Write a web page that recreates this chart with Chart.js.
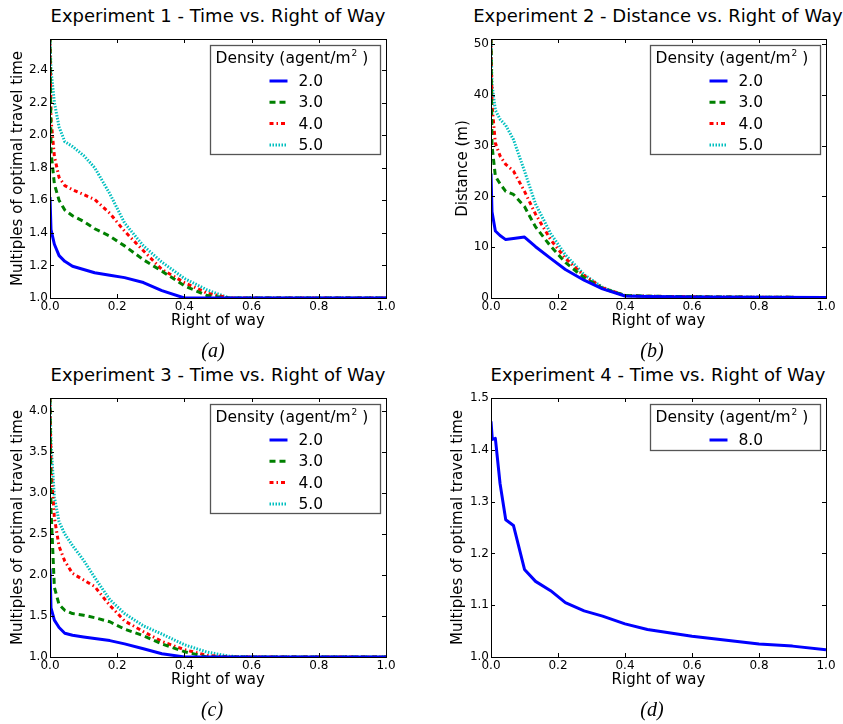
<!DOCTYPE html>
<html>
<head>
<meta charset="utf-8">
<script src="https://cdn.jsdelivr.net/npm/chart.js@4.4.1/dist/chart.umd.min.js"></script>
<style>
  body { margin:0; background:#fff; width:843px; height:724px; position:relative; overflow:hidden; font-family:"DejaVu Sans", sans-serif; }
  canvas { position:absolute; }
  .ttl { position:absolute; width:500px; font-size:18px; line-height:20px; color:#000; text-align:center; white-space:nowrap; }
  .cap { position:absolute; width:100px; font-family:"Liberation Serif", serif; font-style:italic; font-size:20px; line-height:24px; text-align:center; color:#000; }
</style>
</head>
<body>
<div class="ttl" style="left:-32px;top:6px">Experiment 1 - Time vs. Right of Way</div>
<div class="ttl" style="left:408px;top:6px">Experiment 2 - Distance vs. Right of Way</div>
<div class="ttl" style="left:-32px;top:365px">Experiment 3 - Time vs. Right of Way</div>
<div class="ttl" style="left:408px;top:365px">Experiment 4 - Time vs. Right of Way</div>

<canvas id="expA" width="420" height="340" style="left:0;top:0"></canvas>
<canvas id="expB" width="423" height="340" style="left:420px;top:0"></canvas>
<canvas id="expC" width="420" height="340" style="left:0;top:359px"></canvas>
<canvas id="expD" width="423" height="340" style="left:420px;top:359px"></canvas>

<div class="cap" style="left:163px;top:338px">(a)</div>
<div class="cap" style="left:602px;top:338px">(b)</div>
<div class="cap" style="left:162px;top:697px">(c)</div>
<div class="cap" style="left:602px;top:697px">(d)</div>

<script>
// ── DADOS ─────────────────────────────────────────
const rightOfWay = [0, 0.003, 0.013, 0.027, 0.044, 0.067, 0.1, 0.133, 0.178, 0.222, 0.278, 0.333, 0.4, 0.467, 0.533, 0.6, 0.8, 1.0];

const densityLabels = ['2.0', '3.0', '4.0', '5.0'];
const densityLabelsExp4 = ['8.0'];

// Experiment 1 - time multiples
const exp1Dens2 = [1.62, 1.42, 1.33, 1.26, 1.225, 1.195, 1.175, 1.155, 1.14, 1.125, 1.095, 1.045, 1.0, 1.0, 1.0, 1.0, 1.0, 1.0];
const exp1Dens3 = [2.6, 1.9, 1.7, 1.6, 1.54, 1.505, 1.47, 1.425, 1.38, 1.32, 1.235, 1.165, 1.075, 1.015, 1.0, 1.0, 1.0, 1.0];
const exp1Dens4 = [2.6, 2.1, 1.87, 1.74, 1.69, 1.665, 1.635, 1.605, 1.52, 1.41, 1.29, 1.175, 1.095, 1.03, 1.0, 1.0, 1.0, 1.0];
const exp1Dens5 = [2.6, 2.4, 2.2, 2.05, 1.96, 1.93, 1.875, 1.8, 1.64, 1.46, 1.32, 1.22, 1.12, 1.05, 1.0, 1.0, 1.0, 1.0];

// Experiment 2 - distance (m)
const exp2Dens2 = [24.5, 17, 13.2, 12.3, 11.5, 11.7, 12.0, 10.1, 7.8, 5.6, 3.5, 1.8, 0.4, 0.3, 0.25, 0.2, 0.15, 0.1];
const exp2Dens3 = [51, 30, 24, 22.5, 21, 20.4, 18, 14, 10.2, 7.0, 4.0, 1.9, 0.5, 0.35, 0.3, 0.25, 0.15, 0.1];
const exp2Dens4 = [51, 38, 30.5, 28, 26.3, 25, 21, 16.5, 11.5, 7.8, 4.4, 2.0, 0.5, 0.35, 0.3, 0.25, 0.15, 0.1];
const exp2Dens5 = [51, 42, 37, 35.2, 34, 31.2, 25, 18.5, 12.7, 8.5, 4.6, 2.1, 0.5, 0.35, 0.3, 0.25, 0.15, 0.1];

// Experiment 3 - time multiples
const exp3Dens2 = [2.08, 1.6, 1.45, 1.36, 1.29, 1.265, 1.245, 1.225, 1.2, 1.16, 1.1, 1.04, 1.0, 1.0, 1.0, 1.0, 1.0, 1.0];
const exp3Dens3 = [4.16, 2.8, 1.85, 1.64, 1.57, 1.53, 1.51, 1.48, 1.43, 1.34, 1.26, 1.16, 1.065, 1.0, 1.0, 1.0, 1.0, 1.0];
const exp3Dens4 = [4.16, 3.3, 2.7, 2.35, 2.17, 2.02, 1.94, 1.86, 1.63, 1.44, 1.31, 1.19, 1.09, 1.02, 1.0, 1.0, 1.0, 1.0];
const exp3Dens5 = [4.16, 3.6, 2.95, 2.65, 2.5, 2.36, 2.18, 1.97, 1.7, 1.53, 1.38, 1.28, 1.15, 1.06, 1.01, 1.0, 1.0, 1.0];

// Experiment 4 - own sampling
const rightOfWayExp4 = [0, 0.004, 0.013, 0.027, 0.044, 0.067, 0.1, 0.133, 0.178, 0.222, 0.278, 0.333, 0.4, 0.467, 0.6, 0.8, 0.9, 1.0];
const exp4Dens8 = [1.455, 1.42, 1.422, 1.335, 1.265, 1.254, 1.169, 1.146, 1.128, 1.105, 1.089, 1.079, 1.064, 1.053, 1.04, 1.025, 1.021, 1.014];

// tick labels
const xTicks = [0, 0.2, 0.4, 0.6, 0.8, 1.0];
const yTicksExp1 = [1.0, 1.2, 1.4, 1.6, 1.8, 2.0, 2.2, 2.4];
const yTicksExp2 = [0, 10, 20, 30, 40, 50];
const yTicksExp3 = [1.0, 1.5, 2.0, 2.5, 3.0, 3.5, 4.0];
const yTicksExp4 = [1.0, 1.1, 1.2, 1.3, 1.4, 1.5];

// ── ESTILOS DAS SÉRIES ────────────────────────────
const seriesStyles = [
  { color: '#0000ff', dash: [] },
  { color: '#008000', dash: [6, 4] },
  { color: '#ff0000', dash: [4, 3, 1.5, 3] },
  { color: '#00bfbf', dash: [1.5, 1.5] },
];

const FONT = '"DejaVu Sans", sans-serif';

// ── MOLDURA + TICKS PARA DENTRO ──────────────────
const framePlugin = {
  id: 'frame',
  afterDatasetsDraw(chart) {
    const { ctx, chartArea: a, scales } = chart;
    const L = 4;
    ctx.save();
    ctx.strokeStyle = '#000';
    ctx.lineWidth = 1;
    ctx.beginPath();
    scales.x.ticks.forEach(t => {
      const px = Math.round(scales.x.getPixelForValue(t.value)) + 0.5;
      ctx.moveTo(px, a.bottom); ctx.lineTo(px, a.bottom - L);
      ctx.moveTo(px, a.top); ctx.lineTo(px, a.top + L);
    });
    scales.y.ticks.forEach(t => {
      const py = Math.round(scales.y.getPixelForValue(t.value)) + 0.5;
      ctx.moveTo(a.left, py); ctx.lineTo(a.left + L, py);
      ctx.moveTo(a.right, py); ctx.lineTo(a.right - L, py);
    });
    ctx.stroke();
    ctx.strokeRect(Math.round(a.left) + 0.5, Math.round(a.top) + 0.5, Math.round(a.right - a.left), Math.round(a.bottom - a.top));
    ctx.restore();
  }
};

// ── LEGENDA EM CAIXA ─────────────────────────────
const boxLegend = {
  id: 'boxLegend',
  afterDatasetsDraw(chart) {
    const { ctx, chartArea: a } = chart;
    const ds = chart.data.datasets;
    const w = 170, h = 46 + 21 * (ds.length - 1);
    const bx = Math.round(a.right - 6 - w) + 0.5, by = Math.round(a.top + 6) + 0.5;
    ctx.save();
    ctx.fillStyle = '#fff';
    ctx.fillRect(bx, by, w, h);
    ctx.strokeStyle = '#555';
    ctx.lineWidth = 1.3;
    ctx.strokeRect(bx, by, w, h);

    ctx.fillStyle = '#000';
    ctx.textBaseline = 'middle';
    ctx.textAlign = 'left';
    ctx.font = '15.5px ' + FONT;
    let tx = bx + 5;
    const ty = by + 13.5;
    const t1 = 'Density (agent/m';
    ctx.fillText(t1, tx, ty);
    tx += ctx.measureText(t1).width + 1;
    ctx.font = '9px ' + FONT;
    ctx.fillText('2', tx, ty - 5);
    tx += ctx.measureText('2').width;
    ctx.font = '15.5px ' + FONT;
    ctx.fillText(' )', tx, ty);

    ds.forEach((d, i) => {
      const ry = by + 35.5 + 21.3 * i;
      ctx.save();
      ctx.strokeStyle = d.borderColor;
      ctx.lineWidth = d.borderWidth;
      ctx.setLineDash(d.borderDash || []);
      ctx.beginPath();
      ctx.moveTo(bx + 59, ry);
      ctx.lineTo(bx + 77, ry);
      ctx.stroke();
      ctx.restore();
      ctx.font = '15.5px ' + FONT;
      ctx.fillText(d.label, bx + 88, ry + 1);
    });
    ctx.restore();
  }
};

function criarGrafico(id, cfg) {
  const canvas = document.getElementById(id);
  const xs = cfg.xs || rightOfWay;
  return new Chart(canvas, {
    type: 'line',
    data: {
      datasets: cfg.series.map((serie, i) => ({
        label: cfg.labels[i],
        data: xs.map((x, k) => ({ x, y: serie[k] })),
        borderColor: seriesStyles[i].color,
        borderDash: seriesStyles[i].dash,
        borderWidth: 3,
        borderCapStyle: 'butt',
        borderJoinStyle: 'round',
        pointRadius: 0,
        tension: 0,
        fill: false,
      })),
    },
    options: {
      responsive: false,
      animation: false,
      events: [],
      layout: { padding: { top: 39, right: canvas.width - cfg.right, bottom: 0, left: 0 } },
      plugins: { legend: { display: false }, tooltip: { enabled: false }, title: { display: false } },
      scales: {
        x: {
          type: 'linear', min: 0, max: 1,
          grid: { display: false, drawTicks: false },
          border: { display: false },
          afterBuildTicks: s => { s.ticks = xTicks.map(v => ({ value: v })); },
          afterFit: s => { s.height = 42; },
          ticks: { padding: 2, maxRotation: 0, autoSkip: false, color: '#000', font: { family: FONT, size: 12 }, callback: v => v.toFixed(1) },
          title: { display: true, text: 'Right of way', color: '#000', font: { family: FONT, size: 15 }, padding: { top: 0, bottom: 10 } },
        },
        y: {
          type: 'linear', min: cfg.yMin, max: cfg.yMax,
          grid: { display: false, drawTicks: false },
          border: { display: false },
          afterBuildTicks: s => { s.ticks = cfg.yTicks.map(v => ({ value: v })); },
          afterFit: s => { s.width = cfg.left; },
          ticks: { padding: 2, autoSkip: false, color: '#000', font: { family: FONT, size: 12 }, callback: v => v.toFixed(cfg.decimals) },
          title: { display: true, text: cfg.yTitle, color: '#000', font: { family: FONT, size: 15 }, padding: { top: cfg.yTitlePad, bottom: 0 } },
        },
      },
    },
    plugins: [framePlugin, boxLegend],
  });
}

criarGrafico('expA', {
  series: [exp1Dens2, exp1Dens3, exp1Dens4, exp1Dens5], labels: densityLabels,
  yMin: 1.0, yMax: 2.59, yTicks: yTicksExp1, decimals: 1,
  yTitle: 'Multiples of optimal travel time', yTitlePad: 9, left: 50, right: 386,
});
criarGrafico('expB', {
  series: [exp2Dens2, exp2Dens3, exp2Dens4, exp2Dens5], labels: densityLabels,
  yMin: 0, yMax: 51, yTicks: yTicksExp2, decimals: 0,
  yTitle: 'Distance (m)', yTitlePad: 34, left: 71, right: 406,
});
criarGrafico('expC', {
  series: [exp3Dens2, exp3Dens3, exp3Dens4, exp3Dens5], labels: densityLabels,
  yMin: 1.0, yMax: 4.16, yTicks: yTicksExp3, decimals: 1,
  yTitle: 'Multiples of optimal travel time', yTitlePad: 9, left: 50, right: 386,
});
criarGrafico('expD', {
  xs: rightOfWayExp4,
  series: [exp4Dens8], labels: densityLabelsExp4,
  yMin: 1.0, yMax: 1.5, yTicks: yTicksExp4, decimals: 1,
  yTitle: 'Multiples of optimal travel time', yTitlePad: 29, left: 71, right: 406,
});
</script>
</body>
</html>
